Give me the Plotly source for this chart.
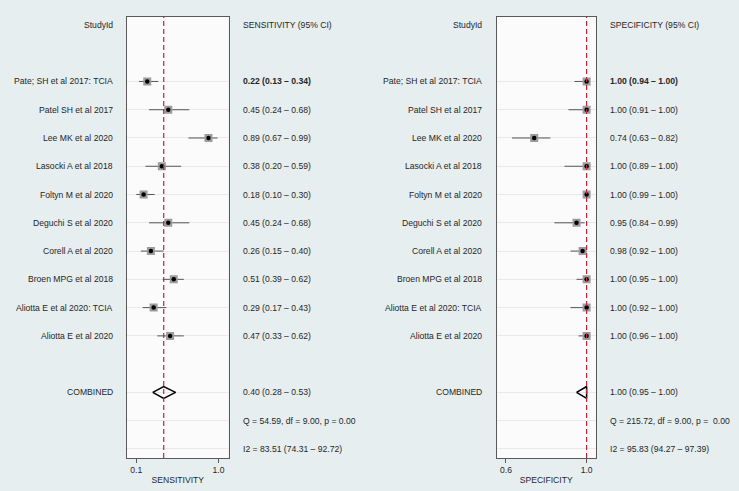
import plotly.graph_objects as go

# study rows (top to bottom)
studies = ["Pate; SH et al 2017: TCIA", "Patel SH et al 2017", "Lee MK et al 2020",
           "Lasocki A et al 2018", "Foltyn M et al 2020", "Deguchi S et al 2020",
           "Corell A et al 2020", "Broen MPG et al 2018", "Aliotta E et al 2020: TCIA",
           "Aliotta E et al 2020"]

sens = [0.22, 0.45, 0.89, 0.38, 0.18, 0.45, 0.26, 0.51, 0.29, 0.47]
sens_lo = [0.13, 0.24, 0.67, 0.20, 0.10, 0.24, 0.15, 0.39, 0.17, 0.33]
sens_hi = [0.34, 0.68, 0.99, 0.59, 0.30, 0.68, 0.40, 0.62, 0.43, 0.62]

spec = [1.00, 1.00, 0.74, 1.00, 1.00, 0.95, 0.98, 1.00, 1.00, 1.00]
spec_lo = [0.94, 0.91, 0.63, 0.89, 0.99, 0.84, 0.92, 0.95, 0.92, 0.96]
spec_hi = [1.00, 1.00, 0.82, 1.00, 1.00, 0.99, 1.00, 1.00, 1.00, 1.00]

sens_comb = [0.40, 0.28, 0.53]   # estimate, lower, upper
spec_comb = [1.00, 0.95, 1.00]
sens_q = "Q = 54.59, df = 9.00, p = 0.00"
sens_i2 = "I2 = 83.51 (74.31 \u2013 92.72)"
spec_q = "Q = 215.72, df = 9.00, p =  0.00"
spec_i2 = "I2 = 95.83 (94.27 \u2013 97.39)"

W, H = 739, 491
FONT = "Liberation Sans, Arial, sans-serif"
FS = 8.6
TXT = "#262626"

study_rows = list(range(2, 2 + len(studies)))
comb_row, q_row, i2_row = 13, 14, 15

fig = go.Figure()
annots = []
shapes = []


def fmt(v, lo, hi):
    return "%.2f (%.2f \u2013 %.2f)" % (v, lo, hi)


def panel(xa, ya, est, lo, hi, comb, qtxt, i2txt, name, lab_x, val_x):
    xref = "x" if xa == "xaxis" else "x2"
    yref = "y" if ya == "yaxis" else "y2"
    # CI lines + gray squares
    fig.add_trace(go.Scatter(
        x=est, y=study_rows, mode="markers", xaxis=xref, yaxis=yref,
        marker=dict(symbol="square", size=8, color="#9c9c9c"),
        error_x=dict(type="data", symmetric=False,
                     array=[h - e for h, e in zip(hi, est)],
                     arrayminus=[e - l for e, l in zip(est, lo)],
                     color="#555555", thickness=1, width=0),
        hoverinfo="skip", showlegend=False))
    fig.add_trace(go.Scatter(
        x=est, y=study_rows, mode="markers", xaxis=xref, yaxis=yref,
        marker=dict(symbol="circle", size=4.5, color="black"),
        hoverinfo="skip", showlegend=False))
    # combined diamond
    c, cl, ch = comb
    h = 0.21
    fig.add_trace(go.Scatter(
        x=[cl, c, ch, c, cl], y=[comb_row, comb_row - h, comb_row, comb_row + h, comb_row],
        mode="lines", xaxis=xref, yaxis=yref, line=dict(color="black", width=1.5),
        hoverinfo="skip", showlegend=False))
    # dashed line at pooled estimate
    shapes.append(dict(type="line", xref=xref, yref=yref + " domain", x0=c, x1=c, y0=0, y1=1,
                       line=dict(color="#b3283a", width=1.2, dash="5px,3px")))
    # text columns
    def t(x, y, s, anchor, bold=False):
        annots.append(dict(x=x, y=y, xref="paper", yref=yref, text="<b>%s</b>" % s if bold else s,
                           showarrow=False, xanchor=anchor, yanchor="middle",
                           font=dict(family=FONT, size=FS, color=TXT)))
    t(lab_x, 0, "StudyId", "right")
    t(val_x, 0, name + " (95% CI)", "left")
    for i, s in enumerate(studies):
        t(lab_x, study_rows[i], s, "right")
        t(val_x, study_rows[i], fmt(est[i], lo[i], hi[i]), "left", bold=(i == 0))
    t(lab_x, comb_row, "COMBINED", "right")
    t(val_x, comb_row, fmt(c, cl, ch), "left")
    t(val_x, q_row, qtxt, "left")
    t(val_x, i2_row, i2txt, "left")


panel("xaxis", "yaxis", sens, sens_lo, sens_hi, sens_comb, sens_q, sens_i2, "SENSITIVITY",
      115.5 / W, 241 / W)
panel("xaxis2", "yaxis2", spec, spec_lo, spec_hi, spec_comb, spec_q, spec_i2, "SPECIFICITY",
      484 / W, 607.5 / W)

ydom = [1 - 458 / H, 1 - 17 / H]
yax = dict(domain=ydom, range=[15.32, -0.28], tickvals=study_rows + [comb_row, q_row, i2_row],
           showticklabels=False, ticks="", showgrid=True, gridcolor="#e9e9e9", gridwidth=1,
           zeroline=False, showline=True, mirror=True, linecolor="#5a5a5a", linewidth=1.2)
xbase = dict(showgrid=False, zeroline=False, showline=True, mirror=True, linecolor="#5a5a5a",
             linewidth=1.2, ticks="outside", ticklen=4, tickcolor="#5a5a5a", tickwidth=1,
             tickfont=dict(family=FONT, size=FS, color=TXT), automargin=False)

fig.update_layout(
    width=W, height=H, autosize=False,
    margin=dict(l=0, r=0, t=0, b=0),
    paper_bgcolor="#e6eef0", plot_bgcolor="#fbfbfb",
    xaxis=dict(xbase, domain=[127 / W, 228.5 / W], range=[-0.0015, 1.109],
               tickvals=[0.1, 1.0], ticktext=["0.1", "1.0"],
               title=dict(text="SENSITIVITY", standoff=2, font=dict(family=FONT, size=FS, color=TXT))),
    xaxis2=dict(xbase, domain=[496.7 / W, 595.7 / W], range=[0.554, 1.045],
                tickvals=[0.6, 1.0], ticktext=["0.6", "1.0"], anchor="y2",
                title=dict(text="SPECIFICITY", standoff=2, font=dict(family=FONT, size=FS, color=TXT))),
    yaxis=dict(yax, anchor="x"),
    yaxis2=dict(yax, anchor="x2"),
    annotations=annots,
    shapes=shapes,
)

# page body has a default 8px margin; drop it so the figure fills the window
fig.write_html("out.html", config={"displayModeBar": False},
               post_script="document.body.style.margin='0';")
